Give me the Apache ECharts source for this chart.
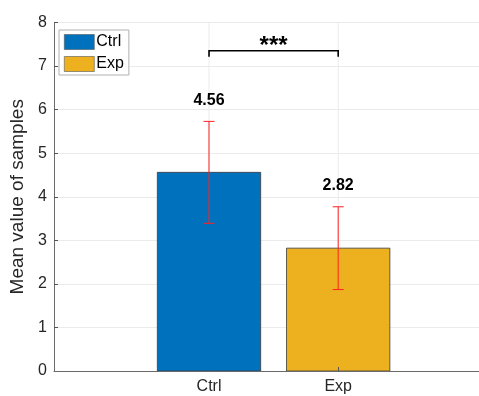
<!DOCTYPE html>
<html><head><meta charset="utf-8">
<script src="https://cdn.jsdelivr.net/npm/echarts@6/dist/echarts.min.js"></script>
<style>html,body{margin:0;padding:0;background:#fff}#c{width:479px;height:396px}</style>
</head><body><div id="c"></div>
<script>
const categories = ['Ctrl', 'Exp'];
const categoryPos = [1, 2];
const means = [4.56, 2.82];
const errors = [1.17, 0.95];
const valueLabels = ['4.56', '2.82'];
const yTickMin = 0, yTickMax = 8, yTickStep = 1;
const significance = '***';
const sigLevel = 7.35;
const colors = ['#0072BD', '#EDB120'];
const barWidthUnits = 0.8;

const FONT = '"Liberation Sans", Arial, Helvetica, sans-serif';
const chart = echarts.init(document.getElementById('c'), null, {renderer: 'canvas'});

const errData = categoryPos.map((x, i) => [x, means[i] - errors[i], means[i] + errors[i]]);
const labelData = categoryPos.map((x, i) => [x, means[i] + errors[i], valueLabels[i]]);

const barSeries = categories.map((name, i) => ({
  name: name,
  type: 'custom',
  data: [[categoryPos[i], means[i]]],
  encode: {x: 0, y: 1},
  z: 3,
  silent: true,
  itemStyle: {color: colors[i], borderColor: '#3a3a3a', borderWidth: 0.8},
  renderItem: (params, api) => {
    const top = api.coord([api.value(0), api.value(1)]);
    const base = api.coord([api.value(0), 0]);
    const w = api.size([barWidthUnits, 0])[0];
    return {type: 'rect', shape: {x: top[0] - w / 2, y: top[1], width: w, height: base[1] - top[1]},
      style: {fill: colors[i], stroke: '#3a3a3a', lineWidth: 0.8}};
  }
}));

const option = {
  animation: false,
  textStyle: {fontFamily: FONT},
  grid: {left: 51.5, right: 0, top: 22.5, bottom: 25, containLabel: false},
  legend: {
    data: categories.map((n, i) => ({name: n, itemStyle: {color: colors[i], borderColor: '#555', borderWidth: 0.6}})),
    orient: 'vertical',
    left: 59, top: 30,
    itemWidth: 30, itemHeight: 15, itemGap: 6,
    padding: [4, 5, 3, 5],
    borderColor: '#b0b0b0', borderWidth: 1,
    backgroundColor: '#fff',
    icon: 'rect',
    textStyle: {fontSize: 16, color: '#000', fontFamily: FONT, padding: [0, 0, 0, -3]}
  },
  xAxis: {
    type: 'value',
    min: -0.2, max: 3.09,
    z: 10,
    axisLine: {show: true, onZero: false, lineStyle: {color: '#6a6a6a', width: 1}},
    axisTick: {show: true, inside: true, length: 4, customValues: categoryPos, lineStyle: {color: '#555'}},
    axisLabel: {
      customValues: categoryPos,
      formatter: v => categories[categoryPos.indexOf(v)] || '',
      fontSize: 16, color: '#262626', margin: 8, fontFamily: FONT
    },
    splitLine: {show: false}
  },
  yAxis: {
    type: 'value',
    min: yTickMin, max: yTickMax, interval: yTickStep,
    name: 'Mean value of samples',
    nameLocation: 'middle',
    nameGap: 27,
    nameTextStyle: {fontSize: 19, color: '#262626', fontFamily: FONT},
    axisLine: {show: true, onZero: false, lineStyle: {color: '#6a6a6a', width: 1}},
    axisTick: {show: true, inside: true, length: 4, lineStyle: {color: '#555'}},
    axisLabel: {fontSize: 16, color: '#262626', margin: 7, fontFamily: FONT},
    splitLine: {show: true, lineStyle: {color: '#ebebeb', width: 1}}
  },
  series: [
    {
      type: 'custom',
      name: 'vgrid',
      z: 1,
      silent: true,
      data: categoryPos.map(x => [x]),
      encode: {x: 0},
      renderItem: (params, api) => {
        const cs = params.coordSys;
        const x = api.coord([api.value(0), 0])[0];
        return {type: 'line', shape: {x1: x, y1: cs.y, x2: x, y2: cs.y + cs.height},
          style: {stroke: '#ebebeb', lineWidth: 1}};
      }
    },
    ...barSeries,
    {
      type: 'custom',
      name: 'err',
      z: 5,
      silent: true,
      data: errData,
      encode: {x: 0, y: [1, 2]},
      renderItem: (params, api) => {
        const lo = api.coord([api.value(0), api.value(1)]);
        const hi = api.coord([api.value(0), api.value(2)]);
        const c = 5.5;
        const st = {stroke: '#ff2020', lineWidth: 1};
        return {type: 'group', children: [
          {type: 'line', shape: {x1: lo[0], y1: lo[1], x2: hi[0], y2: hi[1]}, style: st},
          {type: 'line', shape: {x1: lo[0] - c, y1: lo[1], x2: lo[0] + c, y2: lo[1]}, style: st},
          {type: 'line', shape: {x1: hi[0] - c, y1: hi[1], x2: hi[0] + c, y2: hi[1]}, style: st}
        ]};
      }
    },
    {
      type: 'custom',
      name: 'vlabels',
      z: 6,
      silent: true,
      data: labelData,
      encode: {x: 0, y: 1},
      renderItem: (params, api) => {
        const p = api.coord([api.value(0), api.value(1)]);
        return {type: 'text', x: p[0], y: p[1] - 21,
          style: {text: labelData[params.dataIndex][2], fontSize: 16, fontWeight: 'bold',
            fontFamily: FONT, fill: '#000', align: 'center', verticalAlign: 'middle'}};
      }
    },
    {
      type: 'custom',
      name: 'sig',
      z: 6,
      silent: true,
      data: [[categoryPos[0], categoryPos[1], sigLevel]],
      encode: {x: [0, 1], y: 2},
      renderItem: (params, api) => {
        const a = api.coord([api.value(0), api.value(2)]);
        const b = api.coord([api.value(1), api.value(2)]);
        const d = 6;
        return {type: 'group', children: [
          {type: 'polyline', shape: {points: [[a[0], a[1] + d], [a[0], a[1]], [b[0], b[1]], [b[0], b[1] + d]]},
            style: {stroke: '#000', lineWidth: 1.6, fill: null}},
          {type: 'text', x: (a[0] + b[0]) / 2, y: a[1] - 4,
            style: {text: significance, fontSize: 24, fontWeight: 'bold', fontFamily: FONT,
              fill: '#000', align: 'center', verticalAlign: 'middle'}}
        ]};
      }
    }
  ]
};
chart.setOption(option);
</script>
</body></html>
